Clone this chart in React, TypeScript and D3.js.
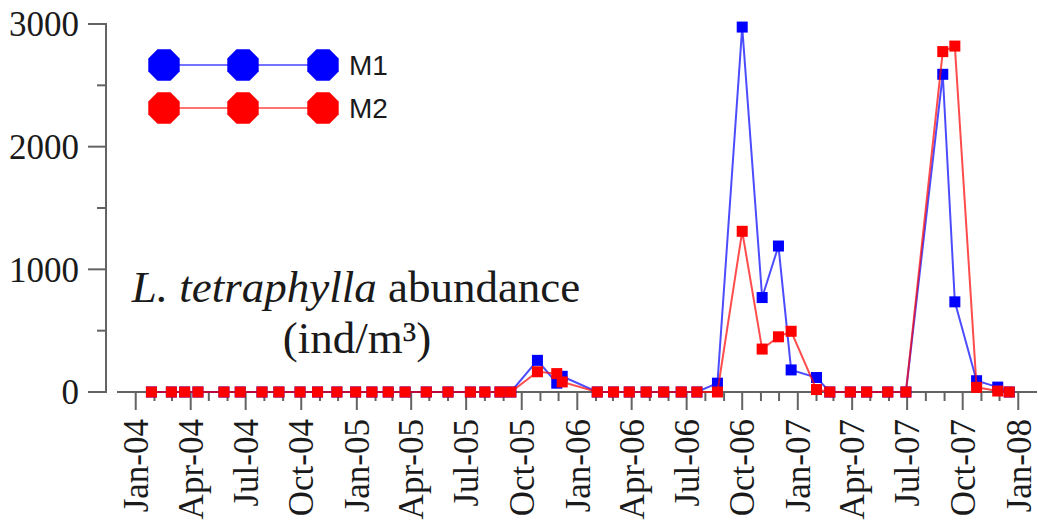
import { useRef, useEffect } from 'react';
import * as d3 from 'd3';

// sampling dates and abundances (ind/m3)
const sampleDates = [
  '2004-01-27', '2004-02-29', '2004-03-22', '2004-04-13', '2004-05-26', '2004-06-22',
  '2004-07-28', '2004-08-25', '2004-09-29', '2004-10-28', '2004-11-29', '2004-12-30',
  '2005-01-26', '2005-02-22', '2005-03-22', '2005-04-26', '2005-06-01', '2005-07-08',
  '2005-08-01', '2005-08-26', '2005-09-13', '2005-10-27', '2005-11-28', '2005-12-07',
  '2006-02-03', '2006-03-02', '2006-03-28', '2006-04-25', '2006-05-24', '2006-06-22',
  '2006-07-18', '2006-08-21', '2006-10-01', '2006-11-03', '2006-11-30', '2006-12-21',
  '2007-02-01', '2007-02-23', '2007-03-29', '2007-04-25', '2007-05-30', '2007-06-29',
  '2007-08-29', '2007-09-18', '2007-10-24', '2007-11-28', '2007-12-17',
];
const m1Values = [
  0, 0, 0, 0, 0, 0, 0, 0, 0, 0, 0, 0,
  0, 0, 0, 0, 0, 0, 0, 0, 0, 258, 72, 128,
  0, 0, 0, 0, 0, 0, 0, 72, 2975, 770, 1190, 180,
  118, 0, 0, 0, 0, 0, 2590, 735, 92, 40, 0,
];
const m2Values = [
  0, 0, 0, 0, 0, 0, 0, 0, 0, 0, 0, 0,
  0, 0, 0, 0, 0, 0, 0, 0, 0, 165, 150, 82,
  0, 0, 0, 0, 0, 0, 0, 0, 1310, 350, 450, 495,
  20, 0, 0, 0, 0, 0, 2775, 2820, 38, 8, 0,
];
const seriesNames = ['M1', 'M2'];
const seriesColors = ['#0000ff', '#ff0000'];
const yTicks = [0, 1000, 2000, 3000];
const yMinorTicks = [500, 1500, 2500];

const W = 1038;
const H = 526;
const AXIS = '#636363';
const SERIF = '"Liberation Serif", "Times New Roman", serif';
const SANS = '"Liberation Sans", Arial, sans-serif';

export default function App() {
  const svgRef = useRef<SVGSVGElement>(null);

  useEffect(() => {
    const svg = d3.select(svgRef.current);
    svg.selectAll('*').remove();

    const parse = d3.utcParse('%Y-%m-%d');
    const dates = sampleDates.map(s => parse(s) as Date);
    const series = [m1Values, m2Values].map((vals, k) => ({
      name: seriesNames[k],
      color: seriesColors[k],
      points: vals.map((v, i) => ({ date: dates[i], value: v })),
    }));

    const x = d3.scaleUtc()
      .domain([new Date(Date.UTC(2003, 11, 1)), new Date(Date.UTC(2008, 1, 1))])
      .range([117, 1037]);
    const y = d3.scaleLinear().domain([0, 3000]).range([392, 24]);
    const axisX = 106;

    // y axis
    const ya = svg.append('g');
    ya.append('line')
      .attr('x1', axisX).attr('x2', axisX)
      .attr('y1', y(3000)).attr('y2', y(0))
      .attr('stroke', AXIS).attr('stroke-width', 2);
    ya.selectAll('.ymaj').data(yTicks).join('line')
      .attr('x1', axisX - 18).attr('x2', axisX + 1)
      .attr('y1', d => y(d)).attr('y2', d => y(d))
      .attr('stroke', AXIS).attr('stroke-width', 2);
    ya.selectAll('.ymin').data(yMinorTicks).join('line')
      .attr('x1', axisX - 9).attr('x2', axisX)
      .attr('y1', d => y(d)).attr('y2', d => y(d))
      .attr('stroke', AXIS).attr('stroke-width', 2);
    ya.selectAll('text').data(yTicks).join('text')
      .attr('x', 79).attr('y', d => y(d))
      .attr('dy', '0.35em')
      .attr('text-anchor', 'end')
      .attr('font-family', SERIF).attr('font-size', 35)
      .attr('fill', '#1a1a1a')
      .text(d => d);

    // x axis
    const xa = svg.append('g');
    const y0 = y(0);
    xa.append('line')
      .attr('x1', x.range()[0]).attr('x2', x.range()[1])
      .attr('y1', y0).attr('y2', y0)
      .attr('stroke', AXIS).attr('stroke-width', 2);
    const months = d3.utcMonth.range(new Date(Date.UTC(2004, 0, 1)), new Date(Date.UTC(2008, 0, 2)));
    const isMajor = (d: Date) => d.getUTCMonth() % 3 === 0;
    xa.selectAll('.xt').data(months).join('line')
      .attr('x1', d => x(d)).attr('x2', d => x(d))
      .attr('y1', y0).attr('y2', d => y0 + (isMajor(d) ? 18 : 9))
      .attr('stroke', AXIS).attr('stroke-width', 2);
    const fmt = d3.utcFormat('%b-%y');
    xa.selectAll('text').data(months.filter(isMajor)).join('text')
      .attr('transform', d => `translate(${x(d)},${y0 + 27}) rotate(-90)`)
      .attr('dy', '0.35em')
      .attr('text-anchor', 'end')
      .attr('font-family', SERIF).attr('font-size', 35)
      .attr('fill', '#1a1a1a')
      .text(d => fmt(d));

    // series
    const line = d3.line<{ date: Date; value: number }>()
      .x(d => x(d.date))
      .y(d => y(d.value));
    const sq = 11;
    series.forEach(s => {
      const g = svg.append('g');
      g.append('path')
        .attr('d', line(s.points))
        .attr('fill', 'none')
        .attr('stroke', s.color)
        .attr('stroke-opacity', 0.7)
        .attr('stroke-width', 2);
      g.selectAll('rect').data(s.points).join('rect')
        .attr('x', d => x(d.date) - sq / 2)
        .attr('y', d => y(d.value) - sq / 2)
        .attr('width', sq).attr('height', sq)
        .attr('fill', s.color);
    });

    // legend
    const octagon = d3.lineRadial<number>()
      .angle(i => Math.PI / 8 + i * Math.PI / 4)
      .radius(17)
      .curve(d3.curveLinearClosed);
    const octPath = octagon(d3.range(8));
    const legX = [164, 243, 323];
    const legY = [65, 108];
    series.forEach((s, k) => {
      const g = svg.append('g');
      g.append('line')
        .attr('x1', legX[0]).attr('x2', legX[2])
        .attr('y1', legY[k]).attr('y2', legY[k])
        .attr('stroke', s.color).attr('stroke-opacity', 0.55).attr('stroke-width', 2);
      g.selectAll('path').data(legX).join('path')
        .attr('d', octPath)
        .attr('transform', d => `translate(${d},${legY[k]})`)
        .attr('fill', s.color);
      g.append('text')
        .attr('x', 349).attr('y', legY[k] + 10)
        .attr('font-family', SANS).attr('font-size', 28)
        .attr('fill', '#1a1a1a')
        .text(s.name);
    });

    // annotation
    const ann = svg.append('text')
      .attr('x', 356).attr('y', 302)
      .attr('text-anchor', 'middle')
      .attr('font-family', SERIF).attr('font-size', 45)
      .attr('fill', '#1a1a1a');
    ann.append('tspan').attr('font-style', 'italic').text('L. tetraphylla');
    ann.append('tspan').text(' abundance');
    svg.append('text')
      .attr('x', 357).attr('y', 353)
      .attr('text-anchor', 'middle')
      .attr('font-family', SERIF).attr('font-size', 45)
      .attr('fill', '#1a1a1a')
      .text('(ind/m³)');
  }, []);

  return (
    <svg
      ref={svgRef}
      width={W}
      height={H}
      style={{ position: 'absolute', left: 0, top: 0, background: '#fff', display: 'block' }}
    />
  );
}
